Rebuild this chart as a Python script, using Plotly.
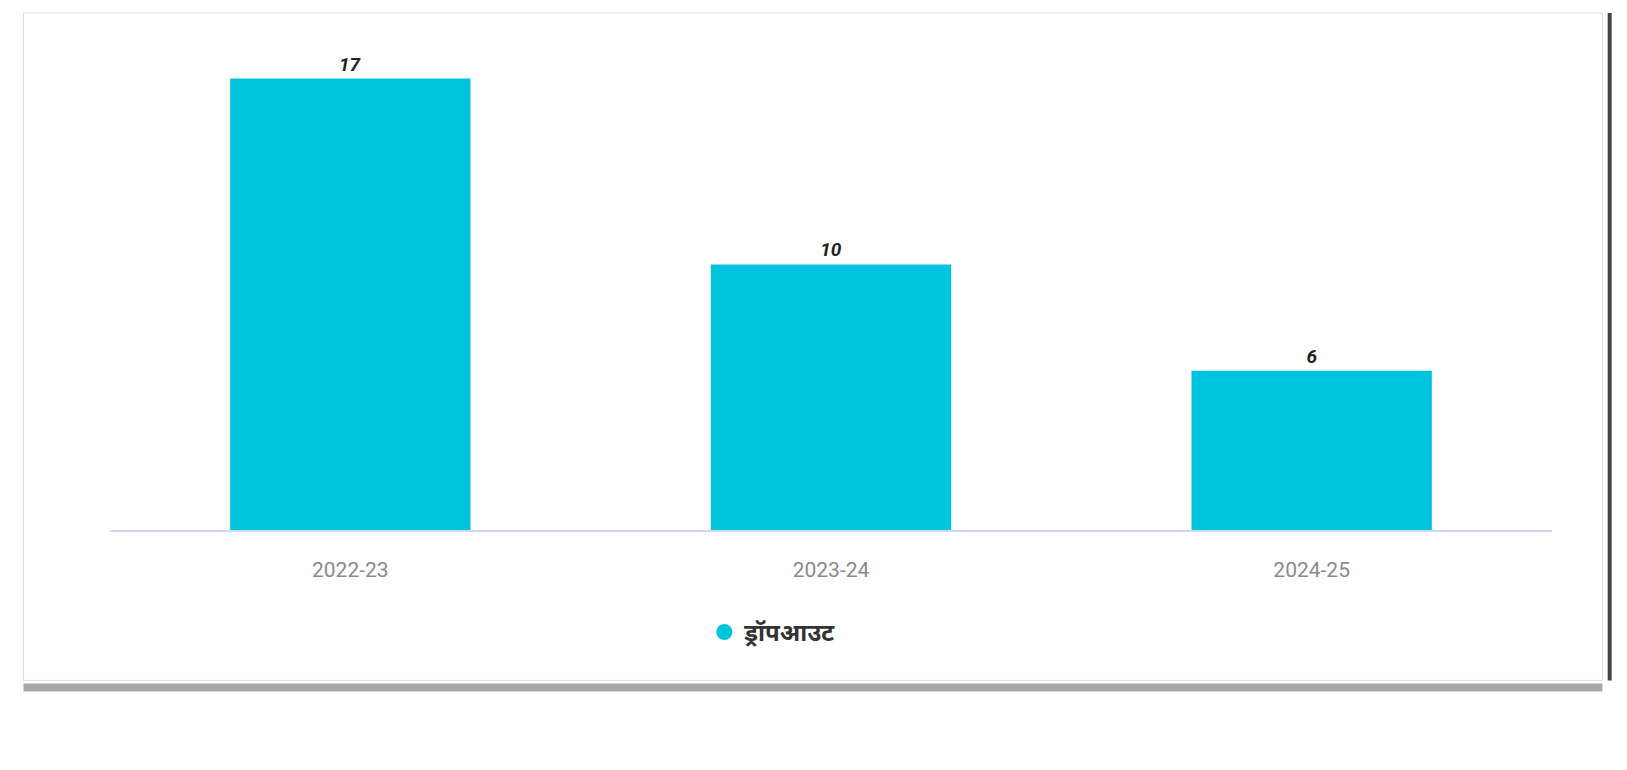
import plotly.graph_objects as go

# Dropout counts by academic year
years = ["2022-23", "2023-24", "2024-25"]
dropouts = [17, 10, 6]
series_name = "ड्रॉपआउट"

BAR_COLOR = "#00C4DE"

fig = go.Figure()

fig.add_trace(go.Bar(
    x=years,
    y=dropouts,
    marker=dict(color=BAR_COLOR, line=dict(width=0)),
    width=0.5,
    text=[str(v) for v in dropouts],
    textposition="outside",
    textfont=dict(family="Roboto, Arial, sans-serif", size=19, color="#222222"),
    texttemplate="<b><i>%{text}</i></b>",
    cliponaxis=False,
    showlegend=False,
    name=series_name,
))

# Legend entry with a round swatch
fig.add_trace(go.Scatter(
    x=[None], y=[None],
    mode="markers",
    marker=dict(color=BAR_COLOR, size=26, symbol="circle"),
    name="<b>" + series_name + "</b>",
    showlegend=True,
))

# Card outline, right edge and soft shadow beneath it
fig.add_shape(type="rect", xref="paper", yref="paper",
              x0=-0.06, x1=1.035, y0=-0.32, y1=1.10,
              line=dict(color="#dcdcdc", width=1), fillcolor="rgba(0,0,0,0)",
              layer="below")
fig.add_shape(type="line", xref="paper", yref="paper",
              x0=-0.06, x1=1.035, y0=-0.335, y1=-0.335,
              line=dict(color="#a8a8a8", width=8), layer="below")
fig.add_shape(type="line", xref="paper", yref="paper",
              x0=1.04, x1=1.04, y0=-0.32, y1=1.10,
              line=dict(color="#444444", width=4), layer="below")

fig.update_layout(
    width=1627,
    height=770,
    paper_bgcolor="white",
    plot_bgcolor="white",
    margin=dict(l=110, r=75, t=60, b=240),
    bargap=0.45,
    font=dict(family="Noto Sans, Roboto, sans-serif"),
    xaxis=dict(
        showline=True,
        linecolor="#cdd9ef",
        linewidth=1.5,
        showgrid=False,
        ticks="",
        tickfont=dict(family="Roboto, Arial, sans-serif", size=21, color="#8a8a8a"),
        ticklabelstandoff=20,
    ),
    yaxis=dict(
        range=[0, 17.7],
        visible=False,
        showgrid=False,
        zeroline=False,
    ),
    legend=dict(
        orientation="h",
        x=0.46, xanchor="center",
        y=-0.17, yanchor="top",
        font=dict(family="Noto Sans, sans-serif", size=24, color="#333333"),
        itemsizing="trace",
        bgcolor="rgba(0,0,0,0)",
    ),
)

fig.write_html("out.html")
